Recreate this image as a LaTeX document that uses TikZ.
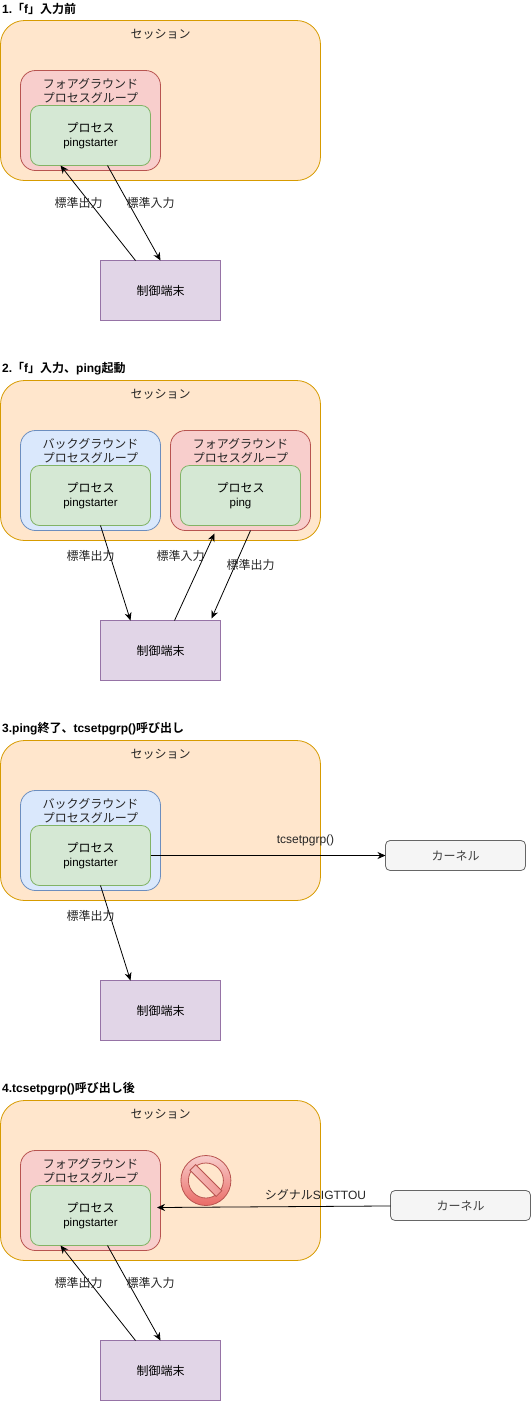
\documentclass[tikz,border=0pt]{standalone}
\usepackage{fontspec}
\setmainfont[BoldFont={Noto Sans CJK JP Bold}]{Noto Sans CJK JP}
\newfontfamily\latinfont{Liberation Sans}
\usepackage{tikz}
\usetikzlibrary{positioning,arrows.meta,calc}
\definecolor{sesfill}{HTML}{FFE6CC}
\definecolor{sesline}{HTML}{D79B00}
\definecolor{fgfill}{HTML}{F8CECC}
\definecolor{fgline}{HTML}{B85450}
\definecolor{bgfill}{HTML}{DAE8FC}
\definecolor{bgline}{HTML}{6C8EBF}
\definecolor{procfill}{HTML}{D5E8D4}
\definecolor{procline}{HTML}{82B366}
\definecolor{termfill}{HTML}{E1D5E7}
\definecolor{termline}{HTML}{9673A6}
\definecolor{kernfill}{HTML}{F5F5F5}
\definecolor{kernline}{HTML}{666666}
\definecolor{stoplow}{HTML}{EA6B66}
\newcommand{\procbox}[1]{プロセス\\{\latinfont\fontsize{11.5}{13}\selectfont #1}}
\begin{document}
\begin{tikzpicture}[
  x=1pt, y=1pt,
  font=\fontsize{12}{14}\selectfont,
  box/.style={draw, line width=0.8pt, inner sep=0pt, outer sep=0pt, align=center},
  session/.style={box, fill=sesfill, draw=sesline, rounded corners=24pt, minimum width=320pt, minimum height=160pt},
  fggroup/.style={box, fill=fgfill, draw=fgline, rounded corners=15pt, minimum width=140pt, minimum height=100pt},
  bggroup/.style={box, fill=bgfill, draw=bgline, rounded corners=15pt, minimum width=140pt, minimum height=100pt},
  proc/.style={box, fill=procfill, draw=procline, rounded corners=9pt, minimum width=120pt, minimum height=60pt},
  term/.style={box, fill=termfill, draw=termline, minimum width=120pt, minimum height=60pt},
  kernel/.style={box, fill=kernfill, draw=kernline, text=black!75, rounded corners=4.5pt, minimum width=140pt, minimum height=30pt},
  heading/.style={font=\fontsize{12}{14}\selectfont\bfseries, inner sep=0pt, anchor=west},
  txt/.style={inner sep=0pt, align=center, text=black!85},
  arr/.style={-{Stealth[length=8pt,width=7pt]}, line width=0.8pt}
]
\useasboundingbox (0,0) rectangle (531,-1401);
\node[session, anchor=north west] (ses1) at (0.5,-20.5) {};
\node[heading, above=11.5pt of ses1.north west, anchor=west, xshift=1.5pt] (head1) {{\latinfont 1.}「{\latinfont f}」入力前};
\node[txt, below=13.5pt of ses1.north, anchor=center] (sest1) {セッション};
\node[fggroup, below right=50pt and 20pt of ses1.north west] (fg1) {};
\node[txt, below=20pt of fg1.north, anchor=center] (fgt1) {フォアグラウンド\\プロセスグループ};
\node[proc, below right=35pt and 10pt of fg1.north west] (pr1) {\procbox{pingstarter}};
\node[term, below right=80pt and 100pt of ses1.south west] (tm1) {制御端末};
\draw[arr] ([xshift=-25pt]tm1.north) -- ([xshift=-30pt]pr1.south);
\draw[arr] ([xshift=17pt]pr1.south) -- (tm1.north);
\node[txt, below=37pt of pr1.south, anchor=center, xshift=-12pt] (out1) {標準出力};
\node[txt, below=37pt of pr1.south, anchor=center, xshift=60pt] (in1) {標準入力};
\node[session, below=200pt of ses1] (ses2) {};
\node[heading, above=11.5pt of ses2.north west, anchor=west, xshift=1.5pt] (head2) {{\latinfont 2.}「{\latinfont f}」入力、{\latinfont ping}起動};
\node[txt, below=13.5pt of ses2.north, anchor=center] (sest2) {セッション};
\node[bggroup, below right=50pt and 20pt of ses2.north west] (bg2) {};
\node[txt, below=20pt of bg2.north, anchor=center] (bgt2) {バックグラウンド\\プロセスグループ};
\node[proc, below right=35pt and 10pt of bg2.north west] (pr2) {\procbox{pingstarter}};
\node[fggroup, right=10pt of bg2] (fg2) {};
\node[txt, below=20pt of fg2.north, anchor=center] (fgt2) {フォアグラウンド\\プロセスグループ};
\node[proc, below right=35pt and 10pt of fg2.north west] (pg2) {\procbox{ping}};
\node[term, below right=80pt and 100pt of ses2.south west] (tm2) {制御端末};
\draw[arr] ([xshift=10pt]pr2.south) -- ([xshift=-30pt]tm2.north);
\draw[arr] ([xshift=14pt]tm2.north) -- ([xshift=-26pt,yshift=-3pt]fg2.south);
\draw[arr] ([xshift=10pt]fg2.south) -- ([xshift=51pt,yshift=2pt]tm2.north);
\node[txt, below=30pt of pr2.south, anchor=center] (out2) {標準出力};
\node[txt, below=30pt of pg2.south, anchor=center, xshift=-60pt] (in2) {標準入力};
\node[txt, below=39pt of pg2.south, anchor=center, xshift=10pt] (outp2) {標準出力};
\node[session, below=200pt of ses2] (ses3) {};
\node[heading, above=11.5pt of ses3.north west, anchor=west, xshift=1.5pt] (head3) {{\latinfont 3.ping}終了、{\latinfont tcsetpgrp()}呼び出し};
\node[txt, below=13.5pt of ses3.north, anchor=center] (sest3) {セッション};
\node[bggroup, below right=50pt and 20pt of ses3.north west] (bg3) {};
\node[txt, below=20pt of bg3.north, anchor=center] (bgt3) {バックグラウンド\\プロセスグループ};
\node[proc, below right=35pt and 10pt of bg3.north west] (pr3) {\procbox{pingstarter}};
\node[term, below right=80pt and 100pt of ses3.south west] (tm3) {制御端末};
\node[kernel, right=235pt of pr3] (kn3) {カーネル};
\draw[arr] (pr3) -- (kn3);
\draw[arr] ([xshift=10pt]pr3.south) -- ([xshift=-30pt]tm3.north);
\node[txt, below=30pt of pr3.south, anchor=center] (out3) {標準出力};
\node[txt, above=15pt of pr3.east, anchor=center, xshift=155pt, font=\latinfont\fontsize{12}{14}\selectfont] (call3) {tcsetpgrp()};
\node[session, below=200pt of ses3] (ses4) {};
\node[heading, above=11.5pt of ses4.north west, anchor=west, xshift=1.5pt] (head4) {{\latinfont 4.tcsetpgrp()}呼び出し後};
\node[txt, below=13.5pt of ses4.north, anchor=center] (sest4) {セッション};
\node[fggroup, below right=50pt and 20pt of ses4.north west] (fg4) {};
\node[txt, below=20pt of fg4.north, anchor=center] (fgt4) {フォアグラウンド\\プロセスグループ};
\node[proc, below right=35pt and 10pt of fg4.north west] (pr4) {\procbox{pingstarter}};
\node[term, below right=80pt and 100pt of ses4.south west] (tm4) {制御端末};
\node[kernel, right=240pt of pr4, yshift=10pt] (kn4) {カーネル};
\node[circle, draw=fgline, line width=0.8pt, inner sep=0pt, minimum size=50pt, top color=fgfill, bottom color=stoplow, right=20pt of fg4.east, yshift=20pt] (stop4) {};
\node[circle, draw=fgline, line width=0.8pt, inner sep=0pt, minimum size=35pt, fill=sesfill] (hole4) at (stop4) {};
\node[draw=fgline, line width=0.8pt, inner sep=0pt, minimum width=37pt, minimum height=8pt, rotate=-45, left color=fgfill!85!stoplow, right color=fgfill!45!stoplow] (bar4) at (stop4) {};
\draw[arr] ([xshift=-25pt]tm4.north) -- ([xshift=-30pt]pr4.south);
\draw[arr] ([xshift=17pt]pr4.south) -- (tm4.north);
\draw[arr] (kn4) -- ([xshift=6.5pt,yshift=8pt]pr4.east);
\node[txt, below=37pt of pr4.south, anchor=center, xshift=-12pt] (out4) {標準出力};
\node[txt, below=37pt of pr4.south, anchor=center, xshift=60pt] (in4) {標準入力};
\node[txt, above=21pt of pr4.east, anchor=center, xshift=165pt] (sig4) {シグナル{\latinfont SIGTTOU}};
\end{tikzpicture}
\end{document}
